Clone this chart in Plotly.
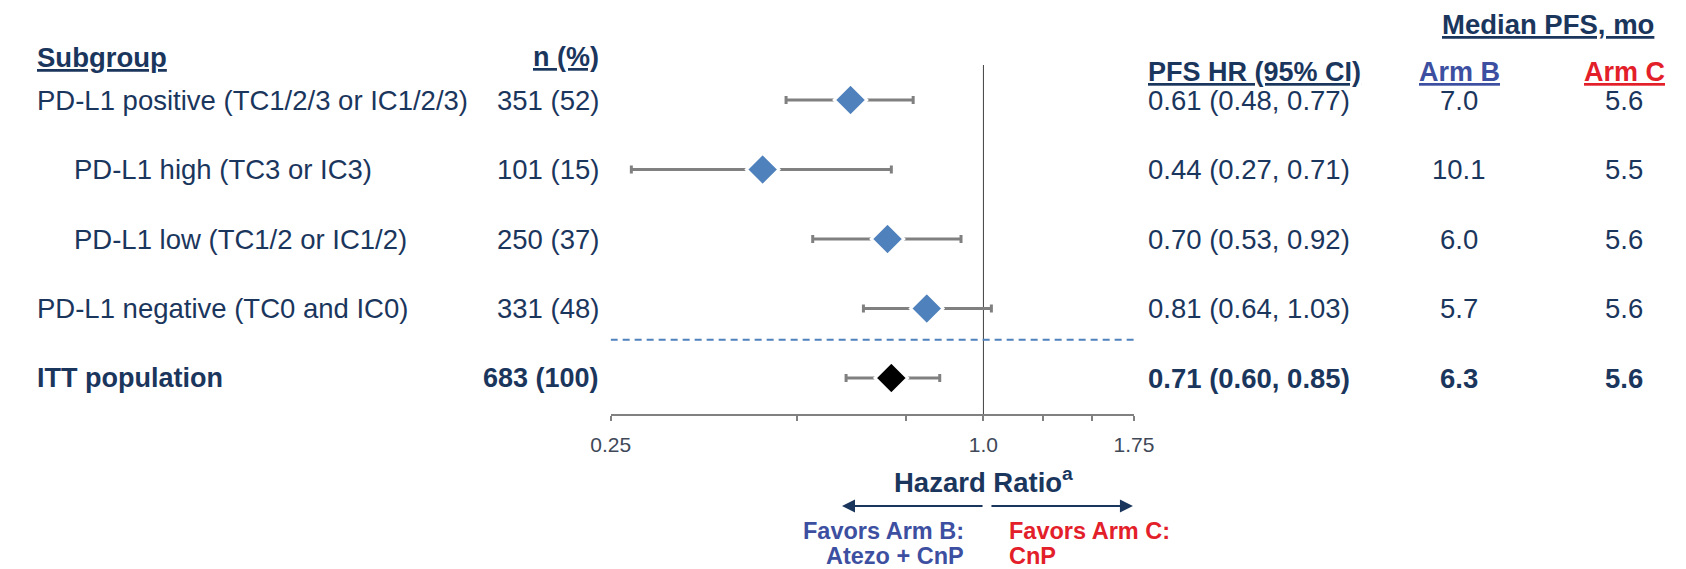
import plotly.graph_objects as go

# ---------------- data ----------------
subgroups = ["PD-L1 positive (TC1/2/3 or IC1/2/3)", "PD-L1 high (TC3 or IC3)",
             "PD-L1 low (TC1/2 or IC1/2)", "PD-L1 negative (TC0 and IC0)", "ITT population"]
indented = [False, True, True, False, False]
n_pct = ["351 (52)", "101 (15)", "250 (37)", "331 (48)", "683 (100)"]
hr = [0.61, 0.44, 0.70, 0.81, 0.71]
ci_lo = [0.48, 0.27, 0.53, 0.64, 0.60]
ci_hi = [0.77, 0.71, 0.92, 1.03, 0.85]
arm_b = ["7.0", "10.1", "6.0", "5.7", "6.3"]
arm_c = ["5.6", "5.5", "5.6", "5.6", "5.6"]
tick_vals = [0.25, 0.5, 0.75, 1.0, 1.25, 1.5, 1.75]
tick_text = ["0.25", "", "", "1.0", "", "", "1.75"]

# ---------------- styles ----------------
W, H = 1686, 569
FONT = "Liberation Sans, Arial, sans-serif"
NAVY = "#1B365D"
ARMB = "#3D4FA0"
ARMC = "#E3202A"
BLUE = "#4F81BD"
GRAY = "#808080"
FS = 27.5

def px(x):
    return x / W

def py(y):
    return 1 - y / H

rows = list(range(len(subgroups)))
y_top, y_bot = -0.504, 4.518
is_total = [s == "ITT population" for s in subgroups]

fig = go.Figure()

# reference line at HR = 1
fig.add_trace(go.Scatter(x=[1.0, 1.0], y=[y_top, y_bot], mode="lines",
                         line=dict(color="#404040", width=1), hoverinfo="skip",
                         showlegend=False, cliponaxis=False))
# dashed separator above ITT row
fig.add_trace(go.Scatter(x=[tick_vals[0], tick_vals[-1]], y=[3.45, 3.45], mode="lines",
                         line=dict(color=BLUE, width=2, dash="7px,5px"), hoverinfo="skip",
                         showlegend=False, cliponaxis=False))
# HR points with CIs
fig.add_trace(go.Scatter(
    x=hr, y=rows, mode="markers", showlegend=False, cliponaxis=False,
    marker=dict(symbol="diamond", size=25,
                color=["black" if t else BLUE for t in is_total],
                line=dict(color="white", width=3)),
    error_x=dict(type="data", symmetric=False,
                 array=[h - m for h, m in zip(ci_hi, hr)],
                 arrayminus=[m - l for m, l in zip(hr, ci_lo)],
                 color=GRAY, thickness=3, width=4),
))

ann = []

def txt(text, x, y, xanchor="left", yref="paper", size=FS, color=NAVY, bold=False, u=False):
    t = text
    if u:
        t = f"<u>{t}</u>"
    if bold:
        t = f"<b>{t}</b>"
    ann.append(dict(text=t, x=x, y=y, xref="paper", yref=yref, xanchor=xanchor,
                    yanchor="middle", showarrow=False,
                    font=dict(family=FONT, size=size, color=color)))

# headers
txt("Median PFS, mo", px(1565), py(24), "center", bold=True, u=True, size=27.5)
txt("Subgroup", px(15), py(57), "left", bold=True, u=True, size=27.5)
txt("n (%)", px(595), py(57), "right", bold=True, u=True, size=27)
txt("PFS HR (95% CI)", px(1153), py(72), "left", bold=True, u=True, size=27)
txt("Arm B", px(1474), py(72), "center", bold=True, u=True, size=27, color=ARMB)
txt("Arm C", px(1643), py(72), "center", bold=True, u=True, size=27, color=ARMC)

# rows
for i, r in enumerate(rows):
    b = is_total[i]
    txt(subgroups[i], px(53 if indented[i] else 15), r, "left", yref="y", bold=b,
        size=27 if b else FS)
    txt(n_pct[i], px(595), r, "right", yref="y", bold=b, size=27 if b else FS)
    txt(f"{hr[i]:.2f} ({ci_lo[i]:.2f}, {ci_hi[i]:.2f})", px(1153), r, "left", yref="y",
        bold=b, size=27.5)
    txt(arm_b[i], px(1474), r, "center", yref="y", bold=b, size=27.5)
    txt(arm_c[i], px(1643), r, "center", yref="y", bold=b, size=27.5)

# axis title and direction labels
txt("Hazard Ratio<sup>a</sup>", px(987), py(480), "center", bold=True, size=27.5)
txt("Favors Arm B:", px(969), py(531), "right", bold=True, size=23.5, color=ARMB)
txt("Atezo + CnP", px(969), py(556), "right", bold=True, size=23.5, color=ARMB)
txt("Favors Arm C:", px(1011), py(531), "left", bold=True, size=23.5, color=ARMC)
txt("CnP", px(1011), py(556), "left", bold=True, size=23.5, color=ARMC)

# arrows
for head, tail in [(842, 984), (1140, 997)]:
    ann.append(dict(text="", x=px(head), y=py(506), ax=tail - head, ay=0,
                    xref="paper", yref="paper", axref="pixel", ayref="pixel",
                    showarrow=True, arrowhead=2, arrowsize=1.3, arrowwidth=2,
                    arrowcolor=NAVY, standoff=0, startstandoff=0))

fig.update_layout(
    width=W, height=H, margin=dict(l=0, r=0, t=0, b=0),
    paper_bgcolor="white", plot_bgcolor="white",
    annotations=ann,
    xaxis=dict(type="log", range=[-0.60206, 0.243038],
               domain=[px(605), px(1141)],
               showline=True, linecolor=GRAY, linewidth=2,
               ticks="outside", ticklen=5, tickwidth=1.5, tickcolor=GRAY,
               tickvals=tick_vals, ticktext=tick_text,
               tickfont=dict(family=FONT, size=21, color="#404858"),
               ticklabelstandoff=6,
               showgrid=False, zeroline=False, fixedrange=True),
    yaxis=dict(range=[y_bot, y_top], domain=[py(414), py(65)], visible=False,
               showgrid=False, zeroline=False, fixedrange=True),
)

fig.write_html("out.html")
